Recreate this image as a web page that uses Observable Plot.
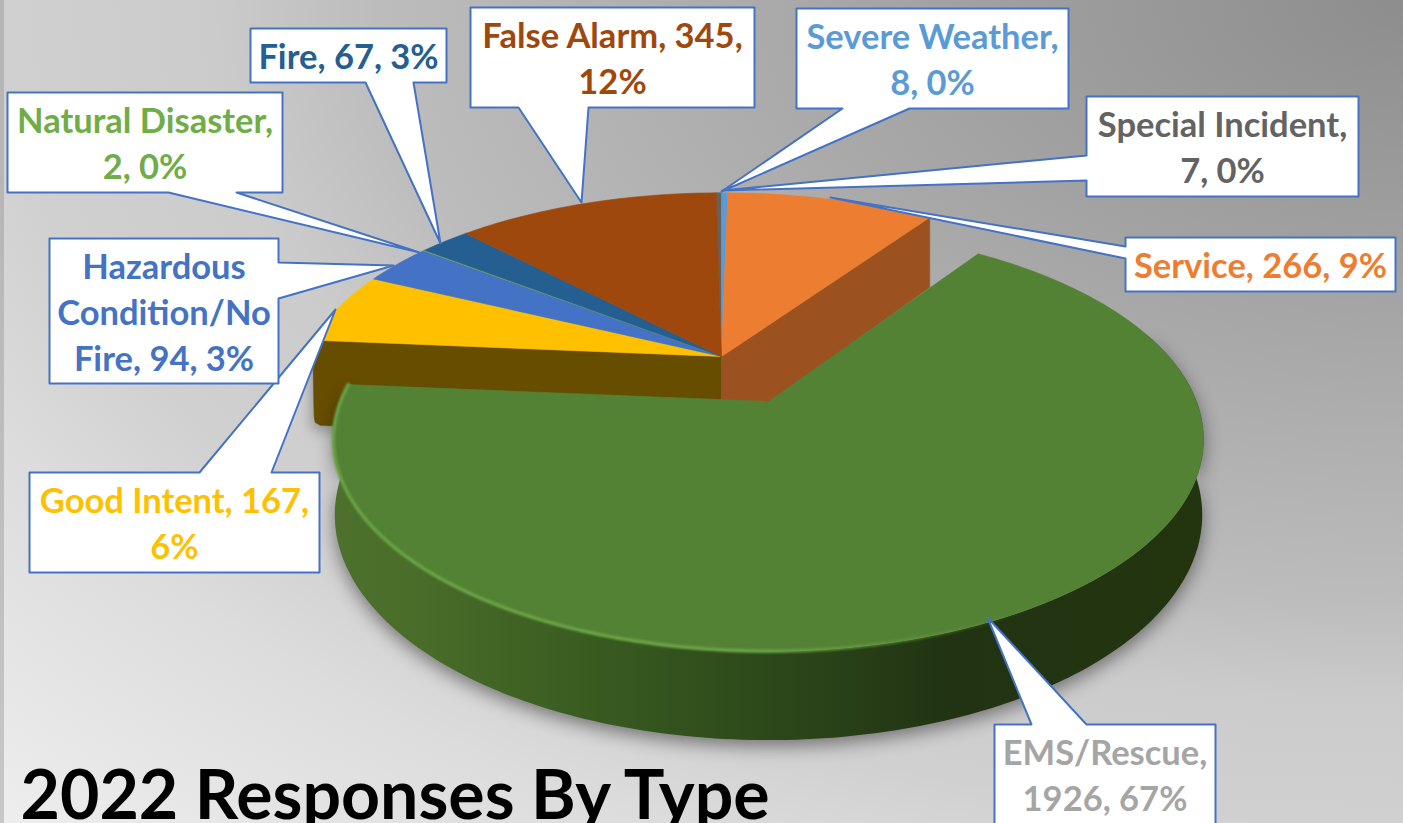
<!DOCTYPE html>
<html>
<head>
<meta charset="utf-8">
<script src="https://cdn.jsdelivr.net/npm/d3@7"></script>
<script src="https://cdn.jsdelivr.net/npm/@observablehq/plot@0.6"></script>
<style>
html,body{margin:0;padding:0;width:1403px;height:823px;overflow:hidden;}
#chart{width:1403px;height:823px;background:radial-gradient(ellipse 1403px 823px at 100% 0,#8d8d8d 0%,#a9a9a9 44%,#bcbcbc 73%,#cbcbcb 85%,#d0d0d0 100%,#dcdcdc 113%,#eeeeee 142%);}
svg{display:block;overflow:hidden;}
</style>
</head>
<body>
<div id="chart"></div>
<script>
// ---- data (clockwise from the grey sliver at the top of the pie)
const categories = ["Special Incident","Severe Weather","Service","EMS/Rescue","Good Intent","Hazardous Condition/No Fire","Natural Disaster","Fire","False Alarm"];
const values = [7,8,266,1926,167,94,2,67,345];
const labels = ["Special Incident,\n7, 0%","Severe Weather,\n8, 0%","Service, 266, 9%","EMS/Rescue,\n1926, 67%","Good Intent, 167,\n6%","Hazardous\nCondition/No\nFire, 94, 3%","Natural Disaster,\n2, 0%","Fire, 67, 3%","False Alarm, 345,\n12%"];
const title = "2022 Responses By Type";

// ---- styles
const sliceColors = ["#636363","#5b9bd5","#ed7d31","#548235","#ffc000","#4472c4","#70ad47","#255e91","#9e480e"];
const labelColors = ["#636363","#5b9bd5","#ed7d31","#a5a5a5","#ffc000","#4472c4","#70ad47","#255e91","#9e480e"];

// ---- layout of the callouts: [x0,y0,x1,y1], side of the pointer, pointer base, tip
const callouts = [
  {box:[1086,96,1358,196], side:"left",  base:[155,180], tip:[722,190]},
  {box:[796,8,1068,108],   side:"bottom",base:[842,909], tip:[721,191]},
  {box:[1125,237,1395,291],side:"left",  base:[246,258], tip:[830,197]},
  {box:[994,724,1215,830], side:"top",   base:[1031,1086],tip:[987,617]},
  {box:[29,472,319,572],   side:"top",   base:[199,271], tip:[335,309]},
  {box:[49,238,278,383],   side:"right", base:[262,298], tip:[393,265]},
  {box:[7,92,282,192],     side:"bottom",base:[168,236], tip:[419,252]},
  {box:[250,28,446,82],    side:"bottom",base:[365,413], tip:[440,243]},
  {box:[470,7,754,107],    side:"bottom",base:[518,588], tip:[581,202]}
];

// ---- pie geometry (perspective projection of a circle)
const total = d3.sum(values);
const startAngle = -values[0] / total * 360;
const K = 0.179;
const back  = {cx:721, cy:356, rxL:416, rxR:425, ry:193, depth:80, shrink:1};
const front = {cx:768, cy:401, rxL:428, rxR:428, ry:205, depth:73, shrink:0.997};
const rad = d => d * Math.PI / 180;
function project(p, deg, down = 0, inset = 0) {
  const u = Math.sin(rad(deg)), v = Math.cos(rad(deg)), w = 1 + K * v;
  const rx = (u < 0 ? p.rxL : p.rxR) * (down ? p.shrink : 1);
  return {x: p.cx + rx * u / w + inset, y: p.cy - p.ry * v / w + down / w};
}
let acc = startAngle;
const slices = values.map((v, i) => {
  const a0 = acc; acc += v / total * 360;
  return {i, a0, a1: acc, geom: categories[i] === "EMS/Rescue" ? front : back, color: sliceColors[i]};
});
const arc = (p, a0, a1, down = 0) => {
  const n = Math.max(2, Math.ceil(Math.abs(a1 - a0)));
  return d3.range(n + 1).map(j => project(p, a0 + (a1 - a0) * j / n, down));
};
const apex = (p, down = 0) => ({x: p.cx, y: p.cy + down});

const ems = slices[3], yellow = slices[4], service = slices[2];
// the rim of the yellow slice is rounded where it meets its cut side
const roundedEnd = 8;
const bevel = a => { const t = Math.max(0, 1 - (a - yellow.a0) / roundedEnd); return 10 * t * t; };
const sliceFace = s => {
  const pts = s === yellow
    ? d3.range(0, 21).map(j => { const a = s.a0 + (s.a1 - s.a0) * j / 20; return project(s.geom, a, 0, bevel(a)); })
    : arc(s.geom, s.a0, s.a1);
  return [apex(s.geom), ...pts, apex(s.geom)];
};
const sideWall = (s, a) => [apex(s.geom), project(s.geom, a), project(s.geom, a, s.geom.depth), apex(s.geom, s.geom.depth), apex(s.geom)];
const yellowWall = [
  apex(back),
  project(back, yellow.a0, 0, bevel(yellow.a0)),
  project(back, yellow.a0, 22),
  project(back, yellow.a0, 76, 1),
  project(back, yellow.a0, 83, 2),
  project(back, yellow.a0, 86, 7),
  apex(back, back.depth + 6),
  apex(back)
];

const emsWall = [...arc(front, 70, ems.a1), ...arc(front, ems.a1, 70, front.depth)];
const emsRim = arc(front, ems.a1, 125);

// ---- callout polygons
function calloutPoly(c, id) {
  const [x0,y0,x1,y1] = c.box, [a,b] = c.base, [tx,ty] = c.tip;
  let pts;
  if (c.side === "bottom") pts = [[x0,y0],[x1,y0],[x1,y1],[b,y1],[tx,ty],[a,y1],[x0,y1],[x0,y0]];
  if (c.side === "top")    pts = [[x0,y0],[a,y0],[tx,ty],[b,y0],[x1,y0],[x1,y1],[x0,y1],[x0,y0]];
  if (c.side === "left")   pts = [[x0,y0],[x1,y0],[x1,y1],[x0,y1],[x0,b],[tx,ty],[x0,a],[x0,y0]];
  if (c.side === "right")  pts = [[x0,y0],[x1,y0],[x1,a],[tx,ty],[x1,b],[x1,y1],[x0,y1],[x0,y0]];
  return pts.map(([x,y]) => ({id, x, y}));
}
const calloutRows = callouts.flatMap(calloutPoly);
const labelRows = callouts.map((c, i) => ({
  x: (c.box[0] + c.box[2]) / 2,
  y: (c.box[1] + Math.min(c.box[3], 824)) / 2 - 1,
  text: labels[i], color: labelColors[i]
}));

// ---- gradients
const defs = () => {
  const d = d3.create("svg:defs");
  const grad = (id, stops) => {
    const g = d.append("linearGradient").attr("id", id).attr("x1", 0).attr("x2", 1).attr("y1", 0).attr("y2", 0);
    stops.forEach(([o, c, op = 1]) => g.append("stop").attr("offset", o).attr("stop-color", c).attr("stop-opacity", op));
  };
  grad("emsWallGrad", [[0,"#4c712c"],[0.08,"#4a6e2a"],[0.31,"#385a20"],[0.51,"#2c481a"],[0.71,"#213312"],[1,"#23350f"]]);
  grad("emsRimGrad", [[0,"#69a245"],[0.5,"#6ba547"],[0.68,"#69a245",0.5],[0.85,"#69a245",0]]);
  return d.node();
};

const xy = {x:"x", y:"y"};
const solid = (pts, fill) => Plot.line(pts, {...xy, fill, stroke: fill, strokeWidth: 0.6});

const plot = Plot.plot({
  width: 1403, height: 823,
  marginTop: 0, marginRight: 0, marginBottom: 0, marginLeft: 0,
  x: {domain: [0, 1403], range: [0, 1403], axis: null},
  y: {domain: [0, 823], range: [0, 823], axis: null},
  style: {background: "transparent"},
  marks: [
    defs,
    Plot.rect([{x1:0, x2:4, y1:0, y2:823}], {x1:"x1", x2:"x2", y1:"y1", y2:"y2", fill:"#8f8f8f", fillOpacity:0.4}),
    // back side walls
    Plot.line(yellowWall, {...xy, fill:"#664d00", stroke:"#664d00", strokeWidth:0.6, imageFilter:"drop-shadow(-3px 6px 6px rgba(0,0,0,.25))"}),
    solid(sideWall(service, service.a1), "#9c5120"),
    // top faces of the back slices
    ...slices.filter(s => s !== ems).map(s => solid(sliceFace(s), s.color)),
    // pulled-out EMS slice
    Plot.line(emsWall, {...xy, fill:"url(#emsWallGrad)", imageFilter:"drop-shadow(0 6px 9px rgba(0,0,0,.45))"}),
    solid(sliceFace(ems), ems.color),
    Plot.line(emsRim, {...xy, stroke:"url(#emsRimGrad)", strokeWidth:3.5, imageFilter:"blur(1px)"}),
    // callouts
    Plot.line(calloutRows, {...xy, z:"id", fill:"white", stroke:"#4472c4", strokeWidth:2}),
    Plot.text(labelRows, {x:"x", y:"y", text:"text", fill:d => d.color, fontFamily:"Lato", fontWeight:700, fontSize:34.5, lineHeight:1.33, textAnchor:"middle"}),
    Plot.text([title], {x:()=>20, y:()=>818, text:d=>d, fill:"#000", fontFamily:"Lato", fontWeight:700, fontSize:68, textAnchor:"start", lineAnchor:"bottom"})
  ]
});
document.getElementById("chart").append(plot);
</script>
</body>
</html>
